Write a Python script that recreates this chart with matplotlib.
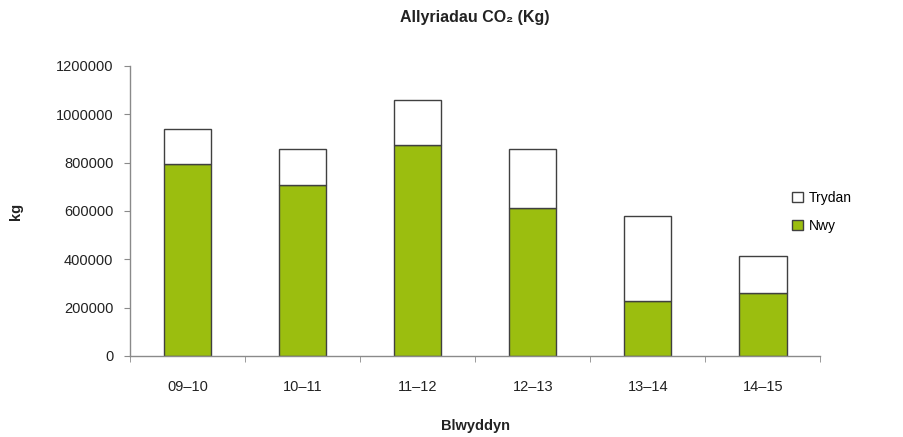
import numpy as np
import matplotlib
matplotlib.use("Agg")
import matplotlib.pyplot as plt
from matplotlib.ticker import FixedLocator

plt.rcParams['font.family'] = ['Liberation Sans', 'DejaVu Sans']

# Data
years = ['09\u201310', '10\u201311', '11\u201312', '12\u201313', '13\u201314', '14\u201315']
nwy = [794000, 706000, 871000, 611000, 229000, 259000]
trydan = [146000, 152000, 187000, 247000, 351000, 153000]
yticks = [0, 200000, 400000, 600000, 800000, 1000000, 1200000]

green = '#9bbe0f'
edge = '#404040'
axis_col = '#8a8a8a'

fig = plt.figure(figsize=(9.04, 4.37), dpi=100)
ax = fig.add_axes([0.1438, 0.1854, 0.7638, 0.6636])

x = np.arange(len(years))
ax.bar(x, nwy, width=0.41, color=green, edgecolor=edge, linewidth=1.0, label='Nwy')
ax.bar(x, trydan, width=0.41, bottom=nwy, color='white', edgecolor=edge,
       linewidth=1.0, label='Trydan')

ax.set_xlim(-0.5, len(years) - 0.5)
ax.set_ylim(0, 1200000)
ax.set_yticks(yticks)
ax.set_yticklabels([str(v) for v in yticks])
ax.set_xticks(x)
ax.set_xticklabels(years)
ax.xaxis.set_minor_locator(FixedLocator(np.arange(-0.5, len(years), 1.0)))

for s in ['top', 'right']:
    ax.spines[s].set_visible(False)
for s in ['left', 'bottom']:
    ax.spines[s].set_color(axis_col)
    ax.spines[s].set_linewidth(1.0)

ax.tick_params(axis='y', direction='out', length=4, color=axis_col,
               labelsize=10.5, pad=8, labelcolor='#222222')
ax.tick_params(axis='x', which='major', length=0, labelsize=10.5, pad=17,
               labelcolor='#222222')
ax.tick_params(axis='x', which='minor', direction='out', length=4, color=axis_col)

ax.set_title('Allyriadau CO\u2082 (Kg)', fontsize=11.5, fontweight='bold', pad=32,
             color='#222222')
ax.set_xlabel('Blwyddyn', fontsize=10.5, fontweight='bold', labelpad=18,
              color='#222222')
ax.set_ylabel('kg', fontsize=10.5, fontweight='bold', color='#222222')
ax.yaxis.set_label_coords(-0.155, 0.5)

handles, labels = ax.get_legend_handles_labels()
leg = fig.legend(handles[::-1], labels[::-1], loc='center left',
                 bbox_to_anchor=(0.862, 0.515), frameon=False, fontsize=10,
                 handlelength=0.8, handleheight=0.8, labelspacing=1.0,
                 handletextpad=0.4)

fig.savefig('out.png', dpi=100)
